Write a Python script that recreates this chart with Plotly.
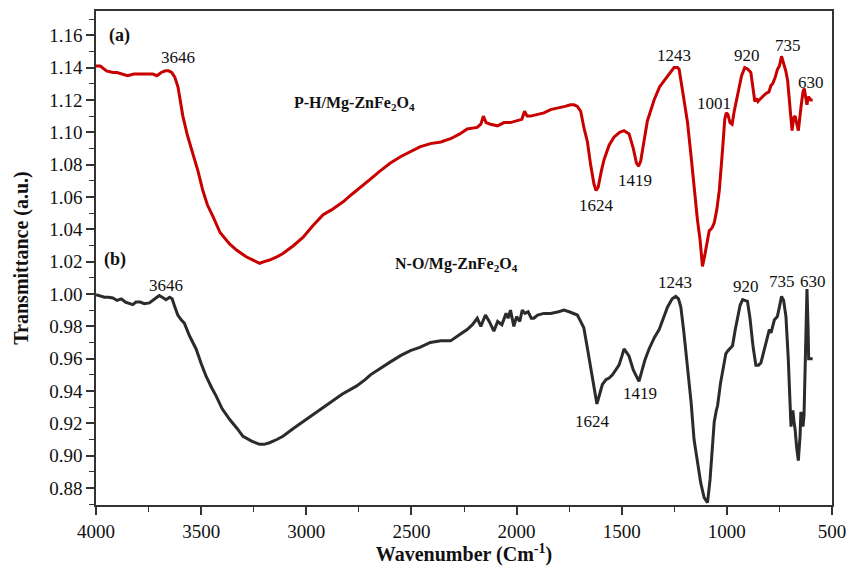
import plotly.graph_objects as go

# ---- data: (a) P-H/Mg-ZnFe2O4 ----
wn_a = [4000, 3980, 3950, 3920, 3900, 3870, 3850, 3820, 3800, 3770, 3750, 3730, 3710, 3690, 3670, 3655,
        3640, 3625, 3610, 3587, 3565, 3540, 3515, 3492, 3470, 3444, 3410, 3365, 3330, 3286, 3250, 3222,
        3200, 3175, 3140, 3111, 3060, 3016, 2970, 2920, 2880, 2825, 2780, 2730, 2695, 2650, 2600, 2550,
        2505, 2460, 2410, 2360, 2314, 2270, 2235, 2200, 2187, 2170, 2158, 2145, 2124, 2090, 2060, 2030,
        1997, 1975, 1962, 1950, 1933, 1900, 1870, 1838, 1800, 1770, 1743, 1727, 1711, 1695, 1680, 1663,
        1648, 1632, 1622, 1612, 1597, 1584, 1560, 1537, 1510, 1489, 1465, 1445, 1430, 1420, 1410, 1395,
        1378, 1346, 1320, 1298, 1270, 1251, 1235, 1227, 1210, 1187, 1170, 1156, 1140, 1127, 1116, 1105,
        1092, 1084, 1070, 1060, 1048, 1036, 1020, 1010, 1003, 995, 985, 975, 965, 949, 930, 915,
        900, 886, 875, 867, 860, 852, 846, 830, 814, 800, 790, 782, 770, 759, 750, 740,
        730, 720, 711, 700, 690, 682, 675, 667, 660, 648, 638, 632, 625, 619, 613, 608,
        600, 592]
tr_a = [1.141, 1.141, 1.138, 1.137, 1.137, 1.136, 1.135, 1.136, 1.136, 1.136, 1.136, 1.136, 1.135, 1.137, 1.138, 1.138,
        1.137, 1.134, 1.128, 1.110, 1.098, 1.087, 1.076, 1.064, 1.055, 1.048, 1.038, 1.031, 1.027, 1.023, 1.021, 1.019,
        1.020, 1.021, 1.023, 1.025, 1.030, 1.035, 1.042, 1.049, 1.052, 1.057, 1.062, 1.067, 1.071, 1.076, 1.081, 1.085,
        1.088, 1.091, 1.093, 1.094, 1.096, 1.099, 1.102, 1.103, 1.103, 1.105, 1.110, 1.106, 1.105, 1.104, 1.106, 1.106,
        1.107, 1.108, 1.113, 1.110, 1.110, 1.111, 1.112, 1.114, 1.115, 1.116, 1.117, 1.117, 1.116, 1.113, 1.103, 1.094,
        1.080, 1.068, 1.064, 1.066, 1.076, 1.083, 1.092, 1.097, 1.100, 1.101, 1.099, 1.090, 1.081, 1.079, 1.082, 1.095,
        1.107, 1.120, 1.128, 1.132, 1.137, 1.140, 1.140, 1.139, 1.125, 1.106, 1.085, 1.065, 1.046, 1.033, 1.017, 1.024,
        1.035, 1.039, 1.041, 1.044, 1.052, 1.064, 1.090, 1.108, 1.112, 1.111, 1.106, 1.105, 1.113, 1.124, 1.135, 1.140,
        1.139, 1.137, 1.128, 1.119, 1.121, 1.119, 1.120, 1.122, 1.124, 1.125, 1.129, 1.130, 1.134, 1.139, 1.141, 1.147,
        1.143, 1.138, 1.132, 1.115, 1.101, 1.109, 1.110, 1.105, 1.101, 1.115, 1.125, 1.127, 1.122, 1.117, 1.122, 1.121,
        1.120, 1.120]

# ---- data: (b) N-O/Mg-ZnFe2O4 ----
wn_b = [4000, 3980, 3960, 3940, 3920, 3900, 3880, 3860, 3840, 3825, 3810, 3790, 3770, 3746, 3720, 3699,
        3685, 3667, 3650, 3638, 3625, 3611, 3595, 3580, 3555, 3524, 3500, 3476, 3450, 3429, 3400, 3365,
        3330, 3301, 3260, 3222, 3200, 3175, 3140, 3111, 3060, 3016, 2960, 2889, 2830, 2762, 2720, 2695,
        2650, 2600, 2550, 2505, 2460, 2410, 2360, 2314, 2270, 2235, 2210, 2187, 2170, 2148, 2130, 2108,
        2090, 2070, 2050, 2040, 2029, 2013, 2000, 1985, 1973, 1960, 1945, 1930, 1918, 1900, 1870, 1838,
        1800, 1775, 1750, 1727, 1711, 1699, 1680, 1664, 1648, 1630, 1618, 1605, 1592, 1575, 1560, 1544,
        1530, 1513, 1498, 1489, 1478, 1465, 1445, 1425, 1418, 1405, 1390, 1370, 1345, 1322, 1300, 1282,
        1260, 1243, 1230, 1219, 1205, 1187, 1170, 1156, 1140, 1124, 1108, 1092, 1080, 1068, 1060, 1050,
        1044, 1030, 1015, 1005, 997, 985, 973, 960, 949, 937, 925, 915, 902, 890, 875, 862,
        850, 838, 822, 806, 798, 790, 780, 774, 767, 760, 750, 740, 730, 719, 708, 700,
        695, 690, 686, 680, 676, 668, 660, 652, 648, 643, 638, 633, 628, 619, 614, 611,
        600, 592]
tr_b = [0.9996, 0.999, 0.998, 0.998, 0.9975, 0.996, 0.997, 0.995, 0.994, 0.9934, 0.995, 0.995, 0.994, 0.9945, 0.997, 0.999,
        0.998, 0.9965, 0.998, 0.997, 0.992, 0.987, 0.984, 0.982, 0.974, 0.966, 0.957, 0.949, 0.942, 0.937, 0.929, 0.9225,
        0.917, 0.912, 0.909, 0.907, 0.907, 0.908, 0.910, 0.912, 0.917, 0.921, 0.926, 0.933, 0.938, 0.943, 0.947, 0.950,
        0.954, 0.958, 0.962, 0.965, 0.967, 0.970, 0.971, 0.971, 0.975, 0.978, 0.981, 0.985, 0.980, 0.987, 0.983, 0.977,
        0.983, 0.981, 0.988, 0.985, 0.990, 0.980, 0.986, 0.983, 0.990, 0.988, 0.989, 0.985, 0.985, 0.987, 0.988, 0.988,
        0.989, 0.990, 0.989, 0.988, 0.987, 0.984, 0.979, 0.967, 0.955, 0.940, 0.932, 0.938, 0.944, 0.947, 0.948, 0.950,
        0.953, 0.956, 0.962, 0.966, 0.964, 0.9615, 0.953, 0.947, 0.946, 0.952, 0.959, 0.966, 0.973, 0.978, 0.986, 0.992,
        0.997, 0.9985, 0.997, 0.992, 0.977, 0.955, 0.933, 0.910, 0.895, 0.883, 0.874, 0.871, 0.885, 0.904, 0.921, 0.928,
        0.931, 0.945, 0.956, 0.963, 0.9646, 0.966, 0.968, 0.978, 0.986, 0.993, 0.9965, 0.996, 0.9955, 0.985, 0.967, 0.956,
        0.956, 0.9574, 0.966, 0.974, 0.978, 0.976, 0.982, 0.984, 0.985, 0.986, 0.992, 0.9985, 0.996, 0.986, 0.960, 0.935,
        0.918, 0.925, 0.928, 0.920, 0.917, 0.905, 0.897, 0.912, 0.927, 0.925, 0.918, 0.925, 0.960, 1.003, 0.980, 0.960,
        0.960, 0.960]

# peak labels: text, x, y
peaks_a_text = ["3646", "1624", "1419", "1243", "1001", "920", "735", "630"]
peaks_a_x = [3610, 1619, 1438, 1252, 1062, 905, 710, 600]
peaks_a_y = [1.1464, 1.0545, 1.0700, 1.1477, 1.1180, 1.1477, 1.1538, 1.1310]
peaks_b_text = ["3646", "1624", "1419", "1243", "920", "735", "630"]
peaks_b_x = [3667, 1638, 1414, 1248, 909, 738, 590]
peaks_b_y = [1.0051, 0.9212, 0.9385, 1.0070, 1.0045, 1.0076, 1.0076]

x_ticks = [4000, 3500, 3000, 2500, 2000, 1500, 1000, 500]
y_ticks = [0.88, 0.90, 0.92, 0.94, 0.96, 0.98, 1.00, 1.02, 1.04, 1.06, 1.08, 1.10, 1.12, 1.14, 1.16]

FONT = "Liberation Serif"

fig = go.Figure()
fig.add_trace(go.Scatter(x=wn_a, y=tr_a, mode="lines", line=dict(color="#c80000", width=3),
                         name="P-H/Mg-ZnFe2O4", showlegend=False))
fig.add_trace(go.Scatter(x=wn_b, y=tr_b, mode="lines", line=dict(color="#2b2b2b", width=3),
                         name="N-O/Mg-ZnFe2O4", showlegend=False))

annotations = []
for t, x, y in zip(peaks_a_text, peaks_a_x, peaks_a_y):
    annotations.append(dict(x=x, y=y, text=t, showarrow=False, xref="x", yref="y",
                            font=dict(family=FONT, size=17, color="#111")))
for t, x, y in zip(peaks_b_text, peaks_b_x, peaks_b_y):
    annotations.append(dict(x=x, y=y, text=t, showarrow=False, xref="x", yref="y",
                            font=dict(family=FONT, size=17, color="#111")))
annotations += [
    dict(x=3886, y=1.160, text="<b>(a)</b>", showarrow=False, font=dict(family=FONT, size=18, color="#111")),
    dict(x=3910, y=1.0212, text="<b>(b)</b>", showarrow=False, font=dict(family=FONT, size=18, color="#111")),
    dict(x=2771, y=1.1175, text="<b>P-H/Mg-ZnFe<sub>2</sub>O<sub>4</sub></b>", showarrow=False,
         font=dict(family=FONT, size=16, color="#111")),
    dict(x=2286, y=1.0180, text="<b>N-O/Mg-ZnFe<sub>2</sub>O<sub>4</sub></b>", showarrow=False,
         font=dict(family=FONT, size=16, color="#111")),
]

fig.update_layout(
    width=848, height=566,
    margin=dict(l=96, r=16, t=11, b=61),
    paper_bgcolor="white", plot_bgcolor="white",
    font=dict(family=FONT, size=19, color="#111"),
    annotations=annotations,
)
fig.update_xaxes(
    range=[4000, 500], tickvals=x_ticks, ticks="outside", ticklen=8, tickwidth=1.5, tickcolor="#333",
    showline=True, linecolor="#333", linewidth=1.5, mirror=True, showgrid=False, zeroline=False,
    automargin=False,
    minor=dict(dtick=250, ticks="outside", ticklen=5, tickwidth=1.2, tickcolor="#333", showgrid=False),
    tickfont=dict(family=FONT, size=19),
    title=dict(text="<b>Wavenumber (Cm<sup>-1</sup>)</b>", font=dict(family=FONT, size=20), standoff=10),
)
fig.update_yaxes(
    range=[0.8695, 1.175], tickvals=y_ticks, tickformat=".2f", ticks="outside", ticklen=8, tickwidth=1.5,
    tickcolor="#333", showline=True, linecolor="#333", linewidth=1.5, mirror=True, showgrid=False,
    zeroline=False, automargin=False,
    minor=dict(dtick=0.01, ticks="outside", ticklen=5, tickwidth=1.2, tickcolor="#333", showgrid=False),
    tickfont=dict(family=FONT, size=19),
    title=dict(text="<b>Transmittance (a.u.)</b>", font=dict(family=FONT, size=20), standoff=15),
)

# remove the browser's default 8px body margin so the 848x566 figure fills the window exactly
fig.write_html("out.html", config={"displayModeBar": False},
               post_script="document.body.style.margin='0';document.body.style.overflow='hidden';")
